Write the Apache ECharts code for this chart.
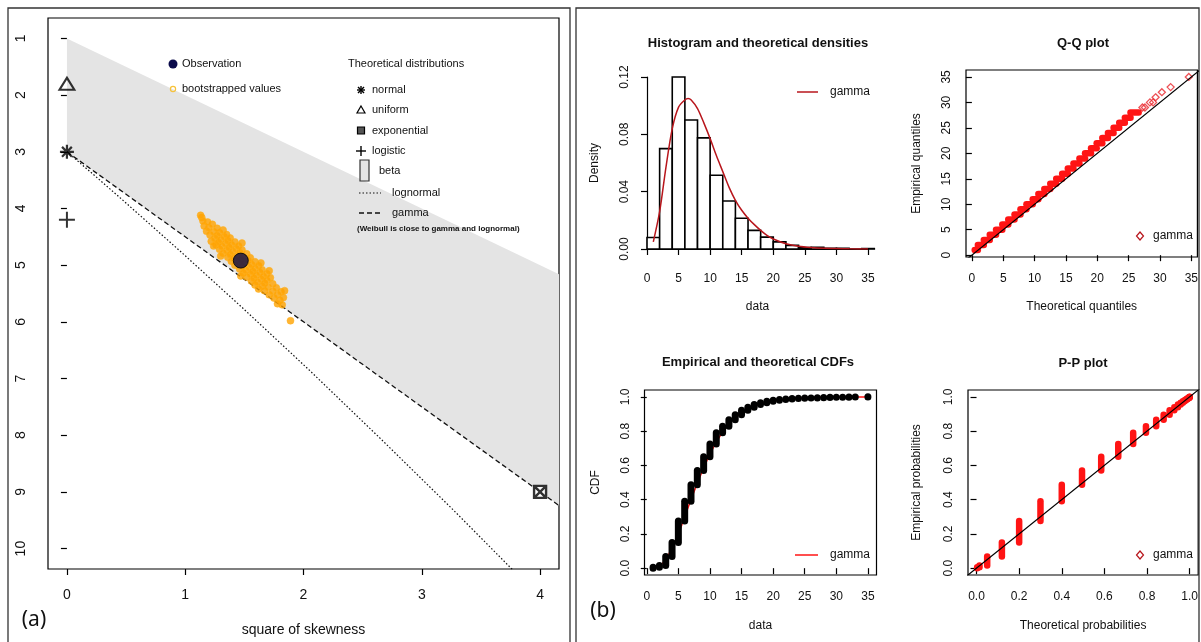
<!DOCTYPE html>
<html>
<head>
<meta charset="utf-8">
<title>Cullen and Frey graph and gamma fit</title>
<script src="https://cdn.jsdelivr.net/npm/echarts@6/dist/echarts.min.js"></script>
<style>
html, body { margin: 0; padding: 0; background: #fff; }
#main { width: 1201px; height: 642px; }
</style>
</head>
<body>
<div id="main"></div>
<script>
// ---------- panel (a): skewness-kurtosis plot ----------
var skewTicks = [0, 1, 2, 3, 4];
var kurtTicks = [1, 2, 3, 4, 5, 6, 7, 8, 9, 10];
var betaRegion = [[0, 1], [4.16, 5.16], [4.16, 9.24], [0, 3]];
var gammaLine = [[0, 3], [2, 6], [4.16, 9.24]];
var lognormalLine = [[0, 3], [0.229, 3.41], [0.465, 3.84], [0.961, 4.76], [1.488, 5.76],
	[2.048, 6.85], [2.641, 8.04], [3.267, 9.32], [3.766, 10.37]];
var observation = [[1.47, 4.92]];
var theoNormal = [[0, 3]];
var theoUniform = [[0, 1.8]];
var theoExponential = [[4, 9]];
var theoLogistic = [[0, 4.2]];
var bootstrapped = [
	[1.22, 4.58], [1.25, 4.53], [1.27, 4.48], [1.29, 4.43], [1.32, 4.38],
	[1.26, 4.64], [1.28, 4.60], [1.30, 4.55], [1.33, 4.50], [1.35, 4.46],
	[1.29, 4.72], [1.31, 4.67], [1.34, 4.62], [1.36, 4.57], [1.38, 4.52],
	[1.32, 4.79], [1.35, 4.74], [1.37, 4.69], [1.39, 4.64], [1.42, 4.59],
	[1.36, 4.86], [1.38, 4.81], [1.40, 4.76], [1.43, 4.71], [1.45, 4.66],
	[1.39, 4.93], [1.41, 4.88], [1.44, 4.83], [1.46, 4.78], [1.48, 4.73],
	[1.42, 5.00], [1.45, 4.95], [1.47, 4.90], [1.49, 4.85], [1.52, 4.80],
	[1.46, 5.07], [1.48, 5.02], [1.50, 4.97], [1.53, 4.92], [1.55, 4.87],
	[1.49, 5.14], [1.51, 5.09], [1.54, 5.04], [1.56, 4.99], [1.59, 4.94],
	[1.52, 5.21], [1.55, 5.16], [1.57, 5.11], [1.59, 5.06], [1.62, 5.01],
	[1.56, 5.28], [1.58, 5.23], [1.60, 5.18], [1.63, 5.13], [1.65, 5.08],
	[1.59, 5.35], [1.61, 5.30], [1.64, 5.25], [1.66, 5.20], [1.69, 5.15],
	[1.62, 5.42], [1.65, 5.37], [1.67, 5.32], [1.69, 5.27], [1.72, 5.22],
	[1.21, 4.47], [1.24, 4.41], [1.27, 4.35], [1.18, 4.40], [1.20, 4.34],
	[1.23, 4.28], [1.16, 4.31], [1.19, 4.24], [1.14, 4.16], [1.15, 4.22], [1.13, 4.12],
	[1.67, 5.45], [1.70, 5.39], [1.74, 5.33], [1.71, 5.52], [1.74, 5.46],
	[1.77, 5.40], [1.75, 5.58], [1.78, 5.52], [1.81, 5.47], [1.80, 5.62],
	[1.83, 5.57], [1.78, 5.68], [1.82, 5.70], [1.89, 5.98], [1.84, 5.45],
	[1.30, 4.84], [1.47, 5.19], [1.48, 4.61], [1.64, 4.96], [1.71, 5.10], [1.24, 4.66]
];

// ---------- panel (b): gamma fit ----------
var dataTicks = [0, 5, 10, 15, 20, 25, 30, 35];
var densTicks = [0, 0.04, 0.08, 0.12];
var probTicks = [0, 0.2, 0.4, 0.6, 0.8, 1.0];
var histBreaks = [0, 2, 4, 6, 8, 10, 12, 14, 16, 18, 20, 22, 24, 26, 28, 30, 32, 34, 36];
var histDensity = [0.008, 0.070, 0.120, 0.090, 0.0775, 0.0515, 0.0335, 0.0215, 0.013,
	0.0083, 0.005, 0.0025, 0.001, 0.0012, 0.0005, 0.0005, 0, 0.0003];
var gammaDensX = [1, 2, 3, 4, 5, 6, 6.5, 7, 8, 9, 10, 11, 12, 13, 14, 15, 16, 17, 18, 19, 20,
	22, 24, 26, 28, 30, 32, 35];
var gammaDensY = [0.005, 0.026, 0.057, 0.084, 0.099, 0.104, 0.105, 0.104, 0.098, 0.088, 0.077,
	0.065, 0.054, 0.043, 0.034, 0.027, 0.0215, 0.017, 0.013, 0.0095, 0.007,
	0.0037, 0.0019, 0.001, 0.0005, 0.0003, 0.0001, 0];
var dataValues = [1, 2, 3, 4, 5, 6, 7, 8, 9, 10, 11, 12, 13, 14, 15, 16, 17, 18, 19, 20,
	21, 22, 23, 24, 25, 26, 27, 28, 29, 30, 31, 32, 33, 35];
var ecdfAt = [0.005, 0.016, 0.068, 0.150, 0.275, 0.390, 0.487, 0.570, 0.650, 0.725,
	0.790, 0.828, 0.866, 0.895, 0.922, 0.940, 0.955, 0.965, 0.974, 0.980,
	0.984, 0.988, 0.990, 0.992, 0.993, 0.994, 0.995, 0.996, 0.997, 0.9975,
	0.998, 0.9985, 0.999, 1.0];
var gammaCdfAt = [0.003, 0.014, 0.05, 0.119, 0.2, 0.3, 0.4, 0.495, 0.585, 0.665,
	0.735, 0.795, 0.843, 0.878, 0.906, 0.928, 0.945, 0.958, 0.968, 0.976,
	0.982, 0.986, 0.99, 0.992, 0.994, 0.9955, 0.9967, 0.9976, 0.9983, 0.9988,
	0.9991, 0.9994, 0.9996, 0.9998];
// Q-Q: each empirical value k is a row of theoretical quantiles ending at qqRowEnds[k-1]
var qqRowStart = 0.45;
var qqRowEnds = [0.95, 1.9, 2.85, 3.85, 4.85, 5.8, 6.8, 7.75, 8.7, 9.7, 10.6, 11.55, 12.5,
	13.45, 14.4, 15.3, 16.2, 17.15, 18.05, 19.0, 19.9, 20.8, 21.7, 22.6, 23.5, 24.4, 25.3, 26.6];
var qqUpper = [[27.2, 29], [27.6, 29], [28.4, 30], [28.9, 30], [29.3, 31], [30.3, 32], [31.7, 33], [34.6, 35]];
var qqIdentity = [[-2, -2], [40, 40]];
var ppIdentity = [[-0.1, -0.1], [1.1, 1.1]];

var FONT = 'Liberation Sans, Arial, sans-serif';
var RED = '#FF1414';
var DARKRED = '#B8161C';

function rAxis(o) {
	return {
		type: 'value', gridIndex: o.grid, min: o.min, max: o.max, inverse: !!o.inverse,
		offset: o.offset || 0,
		axisLine: { show: !!o.line, lineStyle: { color: '#000', width: 1.2 } },
		axisTick: { show: true, inside: false, length: 6, customValues: o.ticks, lineStyle: { color: '#000', width: 1.2 } },
		axisLabel: {
			customValues: o.ticks, rotate: o.rotate || 0, margin: o.margin,
			fontSize: o.fs || 12, color: '#111', fontFamily: FONT,
			formatter: function(v) { return o.dec ? Number(v).toFixed(o.dec) : String(Math.round(v)); }
		},
		splitLine: { show: false },
		name: o.name || '', nameLocation: 'middle', nameGap: o.nameGap || 0,
		nameRotate: o.rotate ? 90 : 0,
		nameTextStyle: { fontSize: o.nfs || 12, color: '#111', fontFamily: FONT }
	};
}

function bandSeries(xi, yi, data, color, vertical, w) {
	return {
		type: 'custom', xAxisIndex: xi, yAxisIndex: yi, data: data, silent: true, z: 4,
		renderItem: function(params, api) {
			var a, b;
			if (vertical) {
				a = api.coord([api.value(0), api.value(2)]);
				b = api.coord([api.value(0), api.value(1)]);
				return { type: 'rect', shape: { x: a[0] - w / 2, y: a[1] - w / 2, width: w, height: b[1] - a[1] + w, r: w / 2 }, style: { fill: color } };
			}
			a = api.coord([api.value(1), api.value(0)]);
			b = api.coord([api.value(2), api.value(0)]);
			return { type: 'rect', shape: { x: a[0] - w / 2, y: a[1] - w / 2, width: b[0] - a[0] + w, height: w, r: w / 2 }, style: { fill: color } };
		}
	};
}

var histData = histDensity.map(function(d, i) { return [histBreaks[i], histBreaks[i + 1], d]; });
var gammaDens = gammaDensX.map(function(x, i) { return [x, gammaDensY[i]]; });
var cdfBands = dataValues.map(function(v, i) { return [v, i ? ecdfAt[i - 1] : 0, ecdfAt[i]]; });
var gammaCdf = dataValues.map(function(v, i) { return [v, gammaCdfAt[i]]; });
var ppBands = dataValues.map(function(v, i) { return [gammaCdfAt[i], i ? ecdfAt[i - 1] : 0, ecdfAt[i]]; });
var qqRows = qqRowEnds.map(function(e, i) { return [i + 1, i ? qqRowEnds[i - 1] : qqRowStart, e]; });

// ---------- decorations: frames, titles, legends ----------
var graphics = [];
function txt(x, y, s, size, opts) {
	opts = opts || {};
	graphics.push({ type: 'text', x: x, y: y, silent: true, z: 10, style: {
		text: s, fontSize: size, fontFamily: opts.family || FONT, fontWeight: opts.bold ? 'bold' : 'normal',
		fill: '#111', textAlign: opts.align || 'left', textVerticalAlign: 'middle' } });
}
function seg(x1, y1, x2, y2, color, w, dash) {
	graphics.push({ type: 'line', silent: true, z: 10, shape: { x1: x1, y1: y1, x2: x2, y2: y2 },
		style: { stroke: color, lineWidth: w, lineDash: dash || null } });
}
graphics.push({ type: 'rect', silent: true, shape: { x: 8, y: 8, width: 562, height: 660 }, style: { fill: 'none', stroke: '#333', lineWidth: 1.3 } });
graphics.push({ type: 'rect', silent: true, shape: { x: 576, y: 8, width: 623, height: 660 }, style: { fill: 'none', stroke: '#333', lineWidth: 1.3 } });
txt(34, 620, '(a)', 21, { family: 'Noto Sans, sans-serif', align: 'center' });
txt(603, 611, '(b)', 21, { family: 'Noto Sans, sans-serif', align: 'center' });

// legend of panel (a)
graphics.push({ type: 'circle', silent: true, z: 10, shape: { cx: 173, cy: 64, r: 4.5 }, style: { fill: '#0a0a4a' } });
txt(182, 64, 'Observation', 11);
graphics.push({ type: 'circle', silent: true, z: 10, shape: { cx: 173, cy: 89, r: 2.6 }, style: { fill: 'none', stroke: '#F7C23A', lineWidth: 1.2 } });
txt(182, 89, 'bootstrapped values', 11);
txt(348, 64, 'Theoretical distributions', 11);
seg(361, 86, 361, 94, '#000', 1.4); seg(357, 90, 365, 90, '#000', 1.4);
seg(358, 87, 364, 93, '#000', 1.4); seg(364, 87, 358, 93, '#000', 1.4);
txt(372, 90, 'normal', 11);
graphics.push({ type: 'polygon', silent: true, z: 10, shape: { points: [[361, 106], [365, 113], [357, 113]] }, style: { fill: 'none', stroke: '#000', lineWidth: 1.2 } });
txt(372, 110, 'uniform', 11);
graphics.push({ type: 'rect', silent: true, z: 10, shape: { x: 357.5, y: 127, width: 7, height: 7 }, style: { fill: '#555', stroke: '#000', lineWidth: 1.2 } });
txt(372, 130.5, 'exponential', 11);
seg(361, 146, 361, 156, '#000', 1.4); seg(356, 151, 366, 151, '#000', 1.4);
txt(372, 151, 'logistic', 11);
graphics.push({ type: 'rect', silent: true, z: 10, shape: { x: 360, y: 160, width: 9, height: 21 }, style: { fill: '#E4E4E4', stroke: '#333', lineWidth: 1.2 } });
txt(379, 171, 'beta', 11);
seg(359, 193, 381, 193, '#111', 1.2, [1.5, 2]);
txt(392, 193, 'lognormal', 11);
seg(359, 213, 381, 213, '#111', 1.3, [5, 3]);
txt(392, 213, 'gamma', 11);
txt(357, 229, '(Weibull is close to gamma and lognormal)', 8, { bold: true });

// panel (b) titles and legends
txt(758, 43, 'Histogram and theoretical densities', 13, { bold: true, align: 'center' });
txt(1083, 43, 'Q-Q plot', 13, { bold: true, align: 'center' });
txt(758, 362, 'Empirical and theoretical CDFs', 13, { bold: true, align: 'center' });
txt(1083, 363, 'P-P plot', 13, { bold: true, align: 'center' });
seg(797, 92, 818, 92, DARKRED, 1.5); txt(830, 92, 'gamma', 12);
seg(795, 555, 818, 555, RED, 1.5); txt(830, 555, 'gamma', 12);
graphics.push({ type: 'polygon', silent: true, z: 10, shape: { points: [[1140, 232], [1143.5, 236], [1140, 240], [1136.5, 236]] }, style: { fill: 'none', stroke: DARKRED, lineWidth: 1.2 } });
txt(1153, 236, 'gamma', 12);
graphics.push({ type: 'polygon', silent: true, z: 10, shape: { points: [[1140, 551], [1143.5, 555], [1140, 559], [1136.5, 555]] }, style: { fill: 'none', stroke: DARKRED, lineWidth: 1.2 } });
txt(1153, 555, 'gamma', 12);

var boxGrid = { show: true, borderColor: '#000', borderWidth: 1.2, backgroundColor: 'transparent' };

var option = {
	animation: false,
	backgroundColor: '#fff',
	grid: [
		Object.assign({ left: 48, top: 18, width: 511, height: 554 }, boxGrid),
		{ left: 647, top: 77, width: 221, height: 172 },
		Object.assign({ left: 966, top: 70, width: 232, height: 187 }, boxGrid),
		Object.assign({ left: 644.5, top: 390, width: 232, height: 185 }, boxGrid),
		Object.assign({ left: 968, top: 390, width: 231, height: 185 }, boxGrid)
	],
	xAxis: [
		rAxis({ grid: 0, min: -0.16, max: 4.16, ticks: skewTicks, margin: 19, fs: 14, name: 'square of skewness', nameGap: 54, nfs: 14 }),
		rAxis({ grid: 1, min: 0, max: 35, ticks: dataTicks, line: true, offset: 8, margin: 16, name: 'data', nameGap: 44 }),
		rAxis({ grid: 2, min: -0.94, max: 35.97, ticks: dataTicks, margin: 16, name: 'Theoretical quantiles', nameGap: 44 }),
		rAxis({ grid: 3, min: -0.36, max: 36.36, ticks: dataTicks, margin: 16, name: 'data', nameGap: 45 }),
		rAxis({ grid: 4, min: -0.04, max: 1.04, ticks: probTicks, dec: 1, margin: 16, name: 'Theoretical probabilities', nameGap: 45 })
	],
	yAxis: [
		rAxis({ grid: 0, min: 0.64, max: 10.36, inverse: true, ticks: kurtTicks, rotate: 90, margin: 20, fs: 14 }),
		rAxis({ grid: 1, min: 0, max: 0.12, ticks: densTicks, dec: 2, line: true, offset: 3, rotate: 90, margin: 13, name: 'Density', nameGap: 43 }),
		rAxis({ grid: 2, min: -0.36, max: 36.36, ticks: dataTicks, rotate: 90, margin: 13, name: 'Empirical quantiles', nameGap: 43 }),
		rAxis({ grid: 3, min: -0.04, max: 1.04, ticks: probTicks, dec: 1, rotate: 90, margin: 13, name: 'CDF', nameGap: 43 }),
		rAxis({ grid: 4, min: -0.04, max: 1.04, ticks: probTicks, dec: 1, rotate: 90, margin: 13, name: 'Empirical probabilities', nameGap: 45 })
	],
	graphic: graphics,
	series: [
		// (a) beta region
		{
			type: 'custom', xAxisIndex: 0, yAxisIndex: 0, data: [[0, 0]], silent: true, z: 1,
			renderItem: function(params, api) {
				var pts = betaRegion.map(function(p) { return api.coord(p); });
				return { type: 'polygon', shape: { points: pts }, style: { fill: '#E4E4E4' } };
			}
		},
		{ type: 'line', xAxisIndex: 0, yAxisIndex: 0, data: gammaLine, symbol: 'none', silent: true, z: 2,
			lineStyle: { color: '#111', width: 1.3, type: [5, 3] } },
		{ type: 'line', xAxisIndex: 0, yAxisIndex: 0, data: lognormalLine, symbol: 'none', silent: true, z: 2,
			lineStyle: { color: '#111', width: 1.2, type: [1.5, 2] } },
		{ type: 'scatter', xAxisIndex: 0, yAxisIndex: 0, data: bootstrapped, symbol: 'circle', symbolSize: 7, silent: true, z: 3,
			itemStyle: { color: '#FFA200', borderColor: '#FFAE1A', borderWidth: 0.6 } },
		{ type: 'scatter', xAxisIndex: 0, yAxisIndex: 0, data: observation, symbol: 'circle', symbolSize: 15, silent: true, z: 5,
			itemStyle: { color: '#0a0a4a', borderColor: '#000', borderWidth: 1 } },
		{ type: 'scatter', xAxisIndex: 0, yAxisIndex: 0, data: theoNormal, silent: true, z: 5,
			symbol: 'path://M10,0L10,20M0,10L20,10M3,3L17,17M17,3L3,17', symbolSize: 14,
			itemStyle: { color: 'transparent', borderColor: '#000', borderWidth: 2.2 } },
		{ type: 'scatter', xAxisIndex: 0, yAxisIndex: 0, data: theoUniform, silent: true, z: 5,
			symbol: 'triangle', symbolSize: [15, 12],
			itemStyle: { color: 'transparent', borderColor: '#000', borderWidth: 2 } },
		{ type: 'scatter', xAxisIndex: 0, yAxisIndex: 0, data: theoLogistic, silent: true, z: 5,
			symbol: 'path://M10,0L10,20M0,10L20,10', symbolSize: 16,
			itemStyle: { color: 'transparent', borderColor: '#000', borderWidth: 2 } },
		{ type: 'scatter', xAxisIndex: 0, yAxisIndex: 0, data: theoExponential, silent: true, z: 5,
			symbol: 'path://M0,0L20,0L20,20L0,20ZM0,0L20,20M20,0L0,20', symbolSize: 12,
			itemStyle: { color: '#fff', borderColor: '#000', borderWidth: 2.4 } },

		// (b) histogram and density
		{
			type: 'custom', xAxisIndex: 1, yAxisIndex: 1, data: histData, silent: true, z: 2, clip: false,
			renderItem: function(params, api) {
				var a = api.coord([api.value(0), api.value(2)]);
				var b = api.coord([api.value(1), 0]);
				return { type: 'rect', shape: { x: a[0], y: a[1], width: b[0] - a[0], height: b[1] - a[1] },
					style: { fill: '#fff', stroke: '#000', lineWidth: 1.6 } };
			}
		},
		{ type: 'line', xAxisIndex: 1, yAxisIndex: 1, data: gammaDens, symbol: 'none', smooth: 0.3, silent: true, z: 4,
			lineStyle: { color: DARKRED, width: 1.5 } },

		// (b) Q-Q plot
		{ type: 'line', xAxisIndex: 2, yAxisIndex: 2, data: qqIdentity, symbol: 'none', silent: true, z: 5,
			lineStyle: { color: '#000', width: 1.2 } },
		bandSeries(2, 2, qqRows, RED, false, 6.5),
		{ type: 'scatter', xAxisIndex: 2, yAxisIndex: 2, data: qqUpper, symbol: 'diamond', symbolSize: 7, silent: true, z: 4,
			itemStyle: { color: 'transparent', borderColor: '#E8262C', borderWidth: 1.3 } },

		// (b) CDFs
		{ type: 'line', xAxisIndex: 3, yAxisIndex: 3, data: gammaCdf, symbol: 'none', smooth: 0.3, silent: true, z: 3,
			lineStyle: { color: RED, width: 1.5 } },
		bandSeries(3, 3, cdfBands, '#000', true, 7),

		// (b) P-P plot
		{ type: 'line', xAxisIndex: 4, yAxisIndex: 4, data: ppIdentity, symbol: 'none', silent: true, z: 5,
			lineStyle: { color: '#000', width: 1.2 } },
		bandSeries(4, 4, ppBands, RED, true, 6.5)
	]
};

var chart = echarts.init(document.getElementById('main'), null, { renderer: 'canvas' });
chart.setOption(option);
</script>
</body>
</html>
